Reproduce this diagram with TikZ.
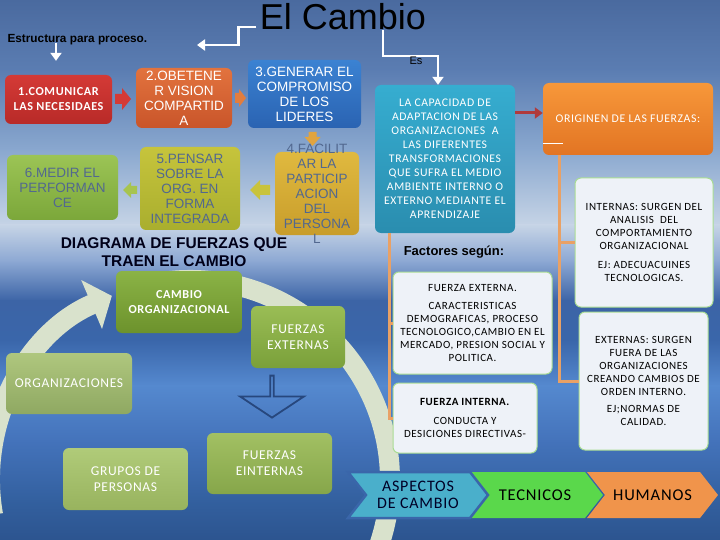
\documentclass[tikz,border=0pt]{standalone}
\usepackage{fontspec}
\setmainfont{Carlito}[LetterSpace=5]
\newfontfamily\arial{Liberation Sans}
\usepackage{tikz}
\usetikzlibrary{arrows.meta, shapes.arrows, shapes.symbols}

\definecolor{fondoA}{HTML}{4A6A9F}
\definecolor{fondoB}{HTML}{5B7DB2}
\definecolor{fondoC}{HTML}{8AA8CF}
\definecolor{fondoD}{HTML}{C6D4E6}
\definecolor{fondoE}{HTML}{8AA6D2}
\definecolor{fondoF}{HTML}{3C64A6}
\definecolor{fondoG}{HTML}{3A66AA}
\definecolor{fondoH}{HTML}{5589CF}
\definecolor{fondoI}{HTML}{4473BB}
\definecolor{fondoJ}{HTML}{33609F}
\definecolor{fondoK}{HTML}{2C548F}
\definecolor{rojoA}{HTML}{D43A36}
\definecolor{rojoB}{HTML}{B82A28}
\definecolor{naranjaA}{HTML}{E2733E}
\definecolor{naranjaB}{HTML}{C9552A}
\definecolor{azulA}{HTML}{3B82D2}
\definecolor{azulB}{HTML}{2A63B2}
\definecolor{oroA}{HTML}{E0B93F}
\definecolor{oroB}{HTML}{C89D2B}
\definecolor{limaA}{HTML}{C6C43C}
\definecolor{limaB}{HTML}{A9AE2E}
\definecolor{verdeA}{HTML}{9CC455}
\definecolor{verdeB}{HTML}{7BA73A}
\definecolor{textopaso}{HTML}{52688F}
\definecolor{cambioA}{HTML}{8BB346}
\definecolor{cambioB}{HTML}{6C922C}
\definecolor{externasA}{HTML}{9ABD55}
\definecolor{externasB}{HTML}{7AA03A}
\definecolor{orgA}{HTML}{AFC77E}
\definecolor{orgB}{HTML}{8FA862}
\definecolor{gruposA}{HTML}{B0CB79}
\definecolor{gruposB}{HTML}{98B35E}
\definecolor{internasA}{HTML}{A2C063}
\definecolor{internasB}{HTML}{86A64A}
\definecolor{turquesaA}{HTML}{36ADD0}
\definecolor{turquesaB}{HTML}{2A8DAF}
\definecolor{origenA}{HTML}{F7983A}
\definecolor{origenB}{HTML}{E27423}
\definecolor{notafondo}{HTML}{EEF2F8}
\definecolor{notaborde}{HTML}{A9DC93}
\definecolor{ramalnaranja}{HTML}{E9A165}
\definecolor{chevronA}{HTML}{4AAFCB}
\definecolor{chevronB}{HTML}{5AD84B}
\definecolor{chevronC}{HTML}{F0944B}
\definecolor{arcoclaro}{HTML}{D9E2CC}
\definecolor{flecharoja}{HTML}{B03A3C}
\definecolor{contorno}{HTML}{27477D}

\begin{document}
\begin{tikzpicture}
	[x=1pt, y=-1pt,
	caja/.style={rounded corners=6pt, align=center, inner sep=1pt},
	paso/.style={caja, font=\arial\fontsize{13.5}{15}\selectfont},
	ciclo/.style={caja, text=white, font=\fontsize{13.5}{16}\selectfont},
	nota/.style={caja, fill=notafondo, draw=notaborde, line width=1pt, font=\fontsize{11}{13}\selectfont},
	chevron/.style={signal, signal from=west, signal to=east, signal pointer angle=104, inner sep=0pt, minimum height=46pt, font=\fontsize{16.5}{17}\selectfont},
	flechablanca/.style={draw=white, line width=2.5pt, -{Triangle[length=8pt,width=11pt]}},
	ramal/.style={draw=ramalnaranja, line width=3pt},
	arco/.style={draw=arcoclaro, line width=20pt}]
	\useasboundingbox (0,0) rectangle (720,540);
	\clip (0,0) rectangle (720,540);
	\foreach \ya/\yb/\ca/\cb in {0/70/fondoA/fondoB, 70/150/fondoB/fondoC, 150/225/fondoC/fondoD, 225/262/fondoD/fondoE, 262/300/fondoE/fondoF, 300/340/fondoF/fondoG, 340/385/fondoG/fondoH, 385/440/fondoH/fondoI, 440/500/fondoI/fondoJ, 500/540/fondoJ/fondoK}
		\shade[top color=\ca, bottom color=\cb] (0,\ya) rectangle (720,\yb+1);

	\draw[arco, -{Triangle[length=22pt,width=52pt]}] (190,480) ++(170:200) arc[start angle=170, end angle=247, radius=200];
	\draw[arco] (190,480) ++(-100:200) arc[start angle=-100, end angle=30, radius=200];

	\node[font=\arial\fontsize{36}{40}\selectfont] (titulo) at (343,17) {El Cambio};
	\node[font=\arial\bfseries\fontsize{11.8}{13}\selectfont, anchor=west] (estructura) at (4,40) {Estructura para proceso.};
	\coordinate (finizq) at (197,45);
	\draw[flechablanca] ([yshift=3pt]titulo.base west) -- ++(-18,0) |- (finizq);
	\draw[flechablanca] (estructura.base -| 56,0) -- ++(0,18);

	\node[paso, top color=rojoA, bottom color=rojoB, minimum width=107pt, minimum height=49pt, text=white, font=\bfseries\fontsize{12.2}{15}\selectfont] (p1) at (58.5,99.5) {1.COMUNICAR\\LAS NECESIDAES};
	\node[paso, top color=naranjaA, bottom color=naranjaB, minimum width=96pt, minimum height=60pt, text=white] (p2) at (184,98) {2.OBETENE\\R VISION\\COMPARTID\\A};
	\node[paso, top color=azulA, bottom color=azulB, minimum width=113pt, minimum height=68pt, text=white] (p3) at (304.5,94) {3.GENERAR EL\\COMPROMISO\\DE LOS\\LIDERES};
	\node[caja, top color=oroA, bottom color=oroB, minimum width=84pt, minimum height=83pt] (p4) at (317,193.5) {};
	\node[paso, top color=limaA, bottom color=limaB, minimum width=100pt, minimum height=83pt, text=textopaso] (p5) at (190,188.5) {5.PENSAR\\SOBRE LA\\ORG. EN\\FORMA\\INTEGRADA};
	\node[paso, top color=verdeA, bottom color=verdeB, minimum width=111pt, minimum height=65pt, text=textopaso] (p6) at (62.5,187.5) {6.MEDIR EL\\PERFORMAN\\CE};

	\fill[rojoA, shift={(115,99)}] (0,-5) -- (7,-5) -- (7,-11) -- (16,0) -- (7,11) -- (7,5) -- (0,5) -- cycle;
	\fill[naranjaA!85!oroA, shift={(235,98)}] (0,-5) -- (4,-5) -- (4,-9) -- (11,0) -- (4,9) -- (4,5) -- (0,5) -- cycle;
	\fill[oroA!70!naranjaA, shift={(312.5,132)}] (-4,0) -- (4,0) -- (4,5) -- (8,5) -- (0,14) -- (-8,5) -- (-4,5) -- cycle;
	\fill[limaA!90!oroA, shift={(270,190)}] (0,-5) -- (-10,-5) -- (-10,-10) -- (-20,0) -- (-10,10) -- (-10,5) -- (0,5) -- cycle;
	\fill[verdeA!75!limaA, shift={(137,190)}] (0,-4) -- (-6,-4) -- (-6,-8) -- (-14,0) -- (-6,8) -- (-6,4) -- (0,4) -- cycle;
	\node[paso, text=textopaso] (t4) at (p4.center) {4.FACILIT\\AR LA\\PARTICIP\\ACION\\DEL\\PERSONA\\L};

	\node[font=\arial\bfseries\fontsize{15.5}{18}\selectfont, align=center, text=black!90!blue] (diagrama) at (174,252) {DIAGRAMA DE FUERZAS QUE\\TRAEN EL CAMBIO};

	\node[ciclo, top color=cambioA, bottom color=cambioB, minimum width=126pt, minimum height=62pt, font=\bfseries\fontsize{12.2}{15}\selectfont] (cambio) at (179,302) {CAMBIO\\ORGANIZACIONAL};
	\node[ciclo, top color=externasA, bottom color=externasB, minimum width=94pt, minimum height=62pt] (fext) at (298,337) {FUERZAS\\EXTERNAS};
	\node[ciclo, top color=orgA, bottom color=orgB, minimum width=126pt, minimum height=61pt] (organizaciones) at (69,383.5) {ORGANIZACIONES};
	\node[ciclo, top color=gruposA, bottom color=gruposB, minimum width=125pt, minimum height=62pt] (grupos) at (125.5,479) {GRUPOS DE\\PERSONAS};
	\node[ciclo, top color=internasA, bottom color=internasB, minimum width=125pt, minimum height=61pt] (fint) at (269.5,463.5) {FUERZAS\\EINTERNAS};
	\node[single arrow, shape border rotate=270, draw=contorno, line width=1.8pt, inner sep=0pt, minimum height=42pt, minimum width=64pt, single arrow head extend=15pt, single arrow tip angle=113] (bajar) at (272,396) {};

	\node[caja, top color=turquesaA, bottom color=turquesaB, minimum width=140pt, minimum height=148pt, text=white, font=\fontsize{11.7}{14}\selectfont] (capacidad) at (445,159) {LA CAPACIDAD DE\\ADAPTACION DE LAS\\ORGANIZACIONES\ \ A\\LAS DIFERENTES\\TRANSFORMACIONES\\QUE SUFRA EL MEDIO\\AMBIENTE INTERNO O\\EXTERNO MEDIANTE EL\\APRENDIZAJE};
	\node[caja, top color=origenA, bottom color=origenB, minimum width=170pt, minimum height=72pt, text=white, font=\fontsize{11.8}{14}\selectfont] (origen) at (628,119) {ORIGINEN DE LAS FUERZAS:};
	\draw[white, line width=0.8pt] (origen.west |- 0,143) -- ++(20,0);
	\coordinate (llegada) at ([yshift=6pt]origen.west);
	\draw[draw=flecharoja, line width=3pt, -{Triangle[length=8pt,width=11pt]}] (capacidad.east |- llegada) -- (llegada);
	\coordinate (llegada) at ([xshift=-7pt]capacidad.north);
	\draw[flechablanca] (titulo.base -| 383,0) -- ++(0,26) -| (llegada);
	\node[font=\arial\fontsize{11}{13}\selectfont] (es) at (416,61) {Es};

	\node[font=\arial\bfseries\fontsize{13}{14}\selectfont] (factores) at (454,252) {Factores según:};
	\node[nota, minimum width=159pt, minimum height=102pt] (fexterna) at (472.5,323) {FUERZA EXTERNA.\\[5pt]CARACTERISTICAS\\DEMOGRAFICAS, PROCESO\\TECNOLOGICO,CAMBIO EN EL\\MERCADO, PRESION SOCIAL Y\\POLITICA.};
	\node[nota, minimum width=144pt, minimum height=70pt] (finterna) at (465,418) {\textbf{FUERZA INTERNA.}\\[6pt]CONDUCTA Y\\DESICIONES DIRECTIVAS-};
	\node[nota, minimum width=138pt, minimum height=129pt] (internas) at (644,242.5) {INTERNAS: SURGEN DEL\\ANALISIS\ \ DEL\\COMPORTAMIENTO\\ORGANIZACIONAL\\[6pt]EJ: ADECUACUINES\\TECNOLOGICAS.};
	\node[nota, minimum width=129pt, minimum height=138pt] (externas) at (643.5,381) {EXTERNAS: SURGEN\\FUERA DE LAS\\ORGANIZACIONES\\CREANDO CAMBIOS DE\\ORDEN INTERNO.\\[4pt]EJ;NORMAS DE\\CALIDAD.};
	\draw[ramal] ([xshift=15pt]capacidad.south west) |- (fexterna.west);
	\draw[ramal] ([xshift=15pt]capacidad.south west) |- (finterna.west);
	\draw[ramal] ([xshift=17pt]origen.south west) |- (internas.west);
	\draw[ramal] ([xshift=17pt]origen.south west) |- (externas.west);

	\node[chevron, fill=chevronB, minimum width=136pt] (tecnicos) at (535,495) {TECNICOS};
	\node[chevron, fill=chevronC, minimum width=131pt] (humanos) at (652.5,495) {HUMANOS};
	\node[chevron, fill=chevronA, draw=fondoG, line width=2.5pt, minimum width=140pt, text=black!85!blue, align=center, font=\fontsize{16}{17}\selectfont] (aspectos) at (418,495) {ASPECTOS\\DE CAMBIO};
\end{tikzpicture}
\end{document}
